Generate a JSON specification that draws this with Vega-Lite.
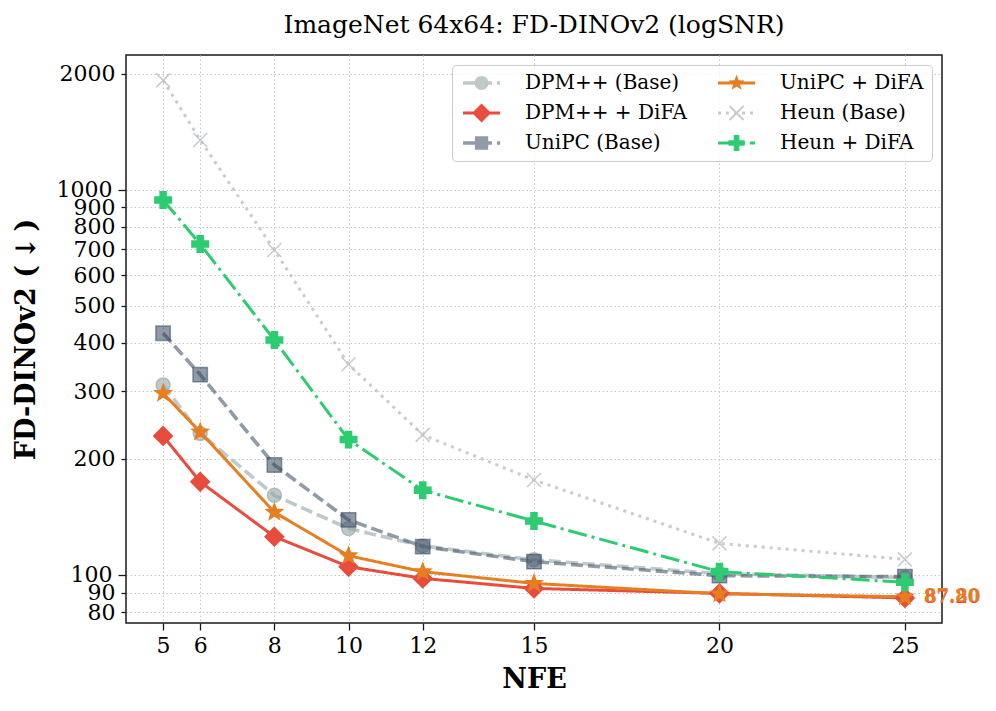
{
  "$schema": "https://vega.github.io/schema/vega-lite/v6.json",
  "width": 816,
  "height": 568,
  "autosize": {"type": "none"},
  "padding": {"left": 126, "top": 55, "right": 54, "bottom": 88},
  "background": "white",
  "title": {
    "text": "ImageNet 64x64: FD-DINOv2 (logSNR)",
    "font": "DejaVu Serif",
    "fontSize": 25,
    "fontWeight": "normal",
    "color": "#000000",
    "anchor": "middle",
    "offset": 17
  },
  "config": {
    "font": "DejaVu Serif",
    "view": {"stroke": "#1a1a1a", "strokeWidth": 1.5},
    "axis": {
      "domain": false,
      "grid": true,
      "gridColor": "#c8c8c8",
      "gridDash": [1.5, 2.5],
      "gridWidth": 1,
      "tickColor": "#1a1a1a",
      "tickWidth": 1.3,
      "labelFont": "DejaVu Serif",
      "labelFontSize": 22,
      "labelColor": "#000000",
      "labelOverlap": false,
      "labelFlush": false,
      "titleFont": "DejaVu Serif",
      "titleFontSize": 27,
      "titleFontWeight": "bold",
      "titleColor": "#000000"
    }
  },
  "data": {
    "values": [
      {"series": "DPM++ (Base)", "nfe": 5, "value": 311},
      {"series": "DPM++ (Base)", "nfe": 6, "value": 233},
      {"series": "DPM++ (Base)", "nfe": 8, "value": 161},
      {"series": "DPM++ (Base)", "nfe": 10, "value": 132},
      {"series": "DPM++ (Base)", "nfe": 12, "value": 119},
      {"series": "DPM++ (Base)", "nfe": 15, "value": 109.5},
      {"series": "DPM++ (Base)", "nfe": 20, "value": 100.8},
      {"series": "DPM++ (Base)", "nfe": 25, "value": 98.5},
      {"series": "DPM++ + DiFA", "nfe": 5, "value": 229.5},
      {"series": "DPM++ + DiFA", "nfe": 6, "value": 174.5},
      {"series": "DPM++ + DiFA", "nfe": 8, "value": 125.7},
      {"series": "DPM++ + DiFA", "nfe": 10, "value": 105.1},
      {"series": "DPM++ + DiFA", "nfe": 12, "value": 98},
      {"series": "DPM++ + DiFA", "nfe": 15, "value": 92.3},
      {"series": "DPM++ + DiFA", "nfe": 20, "value": 89.6},
      {"series": "DPM++ + DiFA", "nfe": 25, "value": 87.2},
      {"series": "UniPC (Base)", "nfe": 5, "value": 424},
      {"series": "UniPC (Base)", "nfe": 6, "value": 331},
      {"series": "UniPC (Base)", "nfe": 8, "value": 193},
      {"series": "UniPC (Base)", "nfe": 10, "value": 139},
      {"series": "UniPC (Base)", "nfe": 12, "value": 118.5},
      {"series": "UniPC (Base)", "nfe": 15, "value": 108.3},
      {"series": "UniPC (Base)", "nfe": 20, "value": 99.6},
      {"series": "UniPC (Base)", "nfe": 25, "value": 99},
      {"series": "UniPC + DiFA", "nfe": 5, "value": 296},
      {"series": "UniPC + DiFA", "nfe": 6, "value": 235},
      {"series": "UniPC + DiFA", "nfe": 8, "value": 145.5},
      {"series": "UniPC + DiFA", "nfe": 10, "value": 112.2},
      {"series": "UniPC + DiFA", "nfe": 12, "value": 102},
      {"series": "UniPC + DiFA", "nfe": 15, "value": 95.1},
      {"series": "UniPC + DiFA", "nfe": 20, "value": 89.4},
      {"series": "UniPC + DiFA", "nfe": 25, "value": 87.8},
      {"series": "Heun (Base)", "nfe": 5, "value": 1920},
      {"series": "Heun (Base)", "nfe": 6, "value": 1345},
      {"series": "Heun (Base)", "nfe": 8, "value": 697},
      {"series": "Heun (Base)", "nfe": 10, "value": 352},
      {"series": "Heun (Base)", "nfe": 12, "value": 231},
      {"series": "Heun (Base)", "nfe": 15, "value": 176.4},
      {"series": "Heun (Base)", "nfe": 20, "value": 120.8},
      {"series": "Heun (Base)", "nfe": 25, "value": 109.8},
      {"series": "Heun + DiFA", "nfe": 5, "value": 940},
      {"series": "Heun + DiFA", "nfe": 6, "value": 722},
      {"series": "Heun + DiFA", "nfe": 8, "value": 407},
      {"series": "Heun + DiFA", "nfe": 10, "value": 224.5},
      {"series": "Heun + DiFA", "nfe": 12, "value": 166},
      {"series": "Heun + DiFA", "nfe": 15, "value": 138},
      {"series": "Heun + DiFA", "nfe": 20, "value": 102},
      {"series": "Heun + DiFA", "nfe": 25, "value": 95.8}
    ]
  },
  "encoding": {
    "x": {
      "field": "nfe",
      "type": "quantitative",
      "scale": {"domain": [4, 26], "nice": false, "zero": false},
      "axis": {
        "title": "NFE",
        "values": [5, 6, 8, 10, 12, 15, 20, 25],
        "tickSize": 7,
        "labelPadding": 5,
        "titlePadding": 10
      }
    },
    "y": {
      "field": "value",
      "type": "quantitative",
      "scale": {"type": "log", "domain": [75.07, 2234], "nice": false},
      "axis": {
        "title": "FD-DINOv2 (\u2009↓\u2009)",
        "values": [80, 90, 100, 200, 300, 400, 500, 600, 700, 800, 900, 1000, 2000],
        "format": "d",
        "tickSize": {"condition": {"test": "datum.value === 100 || datum.value === 1000", "value": 8}, "value": 5},
        "labelPadding": 6,
        "titlePadding": 16
      }
    }
  },
  "layer": [
    {
      "transform": [{"filter": "datum.series === 'DPM++ (Base)' || datum.series === 'UniPC (Base)'"}],
      "mark": {"type": "line", "strokeWidth": 3.6},
      "encoding": {
        "stroke": {
          "field": "series",
          "type": "nominal",
          "scale": {
            "domain": ["DPM++ (Base)", "UniPC + DiFA", "DPM++ + DiFA", "Heun (Base)", "UniPC (Base)", "Heun + DiFA"],
            "range": ["rgba(149,165,166,0.6)", "#e67e22", "#e74c3c", "rgba(189,195,199,0.85)", "rgba(52,73,94,0.55)", "#2ecc71"]
          },
          "legend": null
        },
        "strokeDash": {
          "field": "series",
          "type": "nominal",
          "scale": {
            "domain": ["DPM++ (Base)", "UniPC + DiFA", "DPM++ + DiFA", "Heun (Base)", "UniPC (Base)", "Heun + DiFA"],
            "range": [[12, 5], [1, 0], [1, 0], [3, 5], [12, 5], [19, 5, 3, 5]]
          },
          "legend": null
        }
      }
    },
    {
      "transform": [{"filter": "datum.series !== 'DPM++ (Base)' && datum.series !== 'UniPC (Base)'"}],
      "mark": {"type": "line", "strokeWidth": 3},
      "encoding": {
        "color": {
          "field": "series",
          "type": "nominal",
          "scale": {
            "domain": ["DPM++ (Base)", "DPM++ + DiFA", "UniPC (Base)", "UniPC + DiFA", "Heun (Base)", "Heun + DiFA"],
            "range": ["rgba(149,165,166,0.6)", "#e74c3c", "rgba(52,73,94,0.55)", "#e67e22", "rgba(189,195,199,0.85)", "#2ecc71"]
          },
          "legend": {
            "title": null,
            "orient": "top-right",
            "offset": 10,
            "columns": 2,
            "columnPadding": 28,
            "rowPadding": 10,
            "padding": 8,
            "symbolSize": 196,
            "symbolStrokeWidth": 0,
            "labelOffset": 45,
            "labelFont": "DejaVu Serif",
            "labelFontSize": 20,
            "labelColor": "#000000",
            "labelLimit": 0,
            "fillColor": "rgba(255,255,255,0.8)",
            "strokeColor": "#cccccc",
            "cornerRadius": 4,
            "encode": {
              "symbols": {
                "update": {
                  "shape": {"signal": "['M-1,-0.25L0.714,-0.25L0.714,0.25L-1,0.25ZM1.429,-0.25L3.143,-0.25L3.143,0.25L1.429,0.25ZM3.857,-0.25L4.3,-0.25L4.3,0.25L3.857,0.25ZM0.65,0A1,1,0,1,1,2.65,0A1,1,0,1,1,0.65,0Z', 'M-1,-0.21L4.3,-0.21L4.3,0.21L-1,0.21ZM1.65,-1.35L3,0L1.65,1.35L0.3,0Z', 'M-1,-0.25L0.714,-0.25L0.714,0.25L-1,0.25ZM1.429,-0.25L3.143,-0.25L3.143,0.25L1.429,0.25ZM3.857,-0.25L4.3,-0.25L4.3,0.25L3.857,0.25ZM0.7,-0.95L2.6,-0.95L2.6,0.95L0.7,0.95Z', 'M-1,-0.21L4.3,-0.21L4.3,0.21L-1,0.21ZM1.65,-1.2L1.946,-0.408L2.791,-0.371L2.129,0.156L2.355,0.971L1.65,0.504L0.945,0.971L1.171,0.156L0.509,-0.371L1.354,-0.408Z', 'M-1,-0.21L-0.571,-0.21L-0.571,0.21L-1,0.21ZM0.143,-0.21L0.571,-0.21L0.571,0.21L0.143,0.21ZM1.286,-0.21L1.714,-0.21L1.714,0.21L1.286,0.21ZM2.429,-0.21L2.857,-0.21L2.857,0.21L2.429,0.21ZM3.571,-0.21L4,-0.21L4,0.21L3.571,0.21ZM0.75,-1.1L2.75,0.9L2.55,1.1L0.55,-0.9ZM0.55,0.9L2.55,-1.1L2.75,-0.9L0.75,1.1Z', 'M-1,-0.21L1.743,-0.21L1.743,0.21L-1,0.21ZM2.429,-0.21L2.857,-0.21L2.857,0.21L2.429,0.21ZM3.543,-0.21L4.3,-0.21L4.3,0.21L3.543,0.21ZM1.25,-1.15L2.05,-1.15L2.05,-0.4L2.8,-0.4L2.8,0.4L2.05,0.4L2.05,1.15L1.25,1.15L1.25,0.4L0.5,0.4L0.5,-0.4L1.25,-0.4Z'][indexof(['DPM++ (Base)', 'DPM++ + DiFA', 'UniPC (Base)', 'UniPC + DiFA', 'Heun (Base)', 'Heun + DiFA'], datum.value)]"},
                  "fill": {"signal": "scale('color', datum.value)"},
                  "stroke": {"value": "transparent"},
                  "strokeWidth": {"value": 0},
                  "opacity": {"value": 1}
                }
              }
            }
          }
        },
        "strokeDash": {"field": "series", "type": "nominal", "legend": null}
      }
    },
    {
      "mark": {"type": "point", "filled": true, "opacity": 1, "size": 256, "strokeWidth": 1.5},
      "encoding": {
        "fill": {
          "field": "series",
          "type": "nominal",
          "scale": {
            "domain": ["DPM++ (Base)", "UniPC + DiFA", "DPM++ + DiFA", "Heun (Base)", "UniPC (Base)", "Heun + DiFA"],
            "range": ["rgba(149,165,166,0.6)", "#e67e22", "#e74c3c", "rgba(189,195,199,0.85)", "rgba(52,73,94,0.55)", "#2ecc71"]
          },
          "legend": null
        },
        "stroke": {"field": "series", "type": "nominal", "legend": null},
        "shape": {
          "field": "series",
          "type": "nominal",
          "scale": {
            "domain": ["DPM++ (Base)", "UniPC + DiFA", "DPM++ + DiFA", "Heun (Base)", "UniPC (Base)", "Heun + DiFA"],
            "range": [
              "M-0.875,0A0.875,0.875,0,1,1,0.875,0A0.875,0.875,0,1,1,-0.875,0Z",
              "M0,-1.05L0.259,-0.357L0.999,-0.324L0.419,0.137L0.617,0.849L0,0.441L-0.617,0.849L-0.419,0.137L-0.999,-0.324L-0.259,-0.357Z",
              "M0,-1.16L1.16,0L0,1.16L-1.16,0Z",
              "M-0.875,-0.875L0.875,0.875M-0.875,0.875L0.875,-0.875",
              "M-0.9,-0.9L0.9,-0.9L0.9,0.9L-0.9,0.9Z",
              "M-0.375,-1.03L0.375,-1.03L0.375,-0.375L1.03,-0.375L1.03,0.375L0.375,0.375L0.375,1.03L-0.375,1.03L-0.375,0.375L-1.03,0.375L-1.03,-0.375L-0.375,-0.375Z"
            ]
          },
          "legend": null
        }
      }
    },
    {
      "transform": [{"filter": "datum.nfe === 25 && (datum.series === 'DPM++ + DiFA' || datum.series === 'UniPC + DiFA')"}],
      "mark": {"type": "text", "align": "left", "baseline": "middle", "dx": 19, "font": "DejaVu Serif", "fontSize": 18, "fontWeight": "bold"},
      "encoding": {
        "text": {"field": "value", "type": "quantitative", "format": ".2f"},
        "fill": {"field": "series", "type": "nominal", "legend": null}
      }
    }
  ]
}
